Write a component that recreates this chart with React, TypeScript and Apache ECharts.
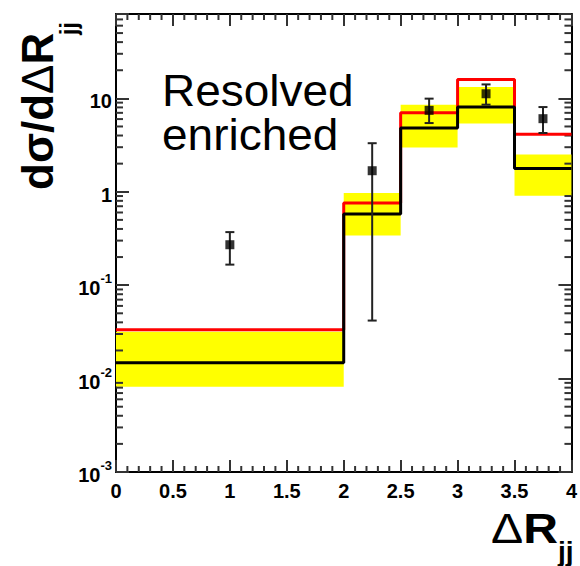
import React, { useEffect, useRef } from "react";
import * as echarts from "echarts";

// ---- data ----
const binEdges = [0, 2, 2.5, 3, 3.5, 4];
const redPrediction = [0.0334, 0.757, 7.03, 15.9, 4.12];
const blackPrediction = [0.0148, 0.578, 4.81, 8.07, 1.77];
const bandHigh = [0.0318, 0.968, 8.56, 13.2, 2.51];
const bandLow = [0.0082, 0.341, 2.97, 5.37, 0.906];

const dataX = [1, 2.25, 2.75, 3.25, 3.75];
const dataY = [0.271, 1.68, 7.44, 11.2, 6.06];
const dataLow = [0.166, 0.0418, 5.44, 8.56, 4.26];
const dataHigh = [0.37, 3.31, 9.93, 14.1, 8.07];

const xTickLabels = ["0", "0.5", "1", "1.5", "2", "2.5", "3", "3.5", "4"];
const xMajorTicks = [0, 0.5, 1, 1.5, 2, 2.5, 3, 3.5, 4];
const xMinorSteps = [0.1, 0.2, 0.3, 0.4];
const yTickValues = [0.001, 0.01, 0.1, 1, 10];
const yTickLabels = ["10^-3", "10^-2", "10^-1", "1", "10"];
const yMinorMultipliers = [2, 3, 4, 5, 6, 7, 8, 9];

const X_MIN = 0;
const X_MAX = 4;
const Y_MIN = 0.001;
const Y_MAX = 80;

const FONT = "'Liberation Sans', Arial, Helvetica, sans-serif";
const TICK = "#333333";

export default function App() {
  const ref = useRef<HTMLDivElement>(null);

  useEffect(() => {
    if (!ref.current) return;
    const chart = echarts.init(ref.current, undefined, { renderer: "svg" });

    const stepData = (vals: number[]) =>
      binEdges.map((e, i) => [e, vals[Math.min(i, vals.length - 1)]]);

    const yMinor: number[][] = [];
    yTickValues.forEach((d) =>
      yMinorMultipliers.forEach((m) => {
        const v = d * m;
        if (v < Y_MAX) yMinor.push([v, 7]);
      })
    );
    const xMinor: number[][] = [];
    xMajorTicks.forEach((t) =>
      xMinorSteps.forEach((s) => {
        const v = +(t + s).toFixed(3);
        if (v < X_MAX) xMinor.push([v, 6]);
      })
    );

    const yFmt = (v: number) => {
      const i = yTickValues.findIndex(
        (t) => Math.abs(Math.log10(v) - Math.log10(t)) < 1e-6
      );
      if (i < 0) return "";
      const p = yTickLabels[i].split("^");
      return p.length === 2 ? `{b|${p[0]}}{s|${p[1]}}` : `{b|${p[0]}}`;
    };

    const xCommon: any = {
      type: "value",
      min: X_MIN,
      max: X_MAX,
      interval: 0.5,
      axisLine: { show: true, onZero: false, lineStyle: { color: "#000", width: 2 } },
      axisTick: { show: true, inside: true, length: 12, lineStyle: { color: TICK, width: 2 } },
      splitLine: { show: false },
    };
    const yCommon: any = {
      type: "log",
      min: Y_MIN,
      max: Y_MAX,
      axisLine: { show: true, onZero: false, lineStyle: { color: "#000", width: 2 } },
      axisTick: { show: true, inside: true, length: 13, lineStyle: { color: TICK, width: 2 } },
      splitLine: { show: false },
    };

    const yMinorSeries = (side: number) => ({
      type: "custom",
      encode: { y: 0 },
      dimensions: ["v", "len"],
      data: yMinor,
      renderItem: (_p: any, api: any) => {
        const len = api.value(1);
        const pt = api.coord([side === 0 ? X_MIN : X_MAX, api.value(0)]);
        const x2 = side === 0 ? pt[0] + len : pt[0] - len;
        return {
          type: "line",
          shape: { x1: pt[0], y1: pt[1], x2, y2: pt[1] },
          style: { stroke: TICK, lineWidth: 2 },
        };
      },
    });
    const xMinorSeries = (side: number) => ({
      type: "custom",
      encode: { x: 0 },
      dimensions: ["v", "len"],
      data: xMinor,
      renderItem: (_p: any, api: any) => {
        const len = api.value(1);
        const pt = api.coord([api.value(0), side === 0 ? Y_MIN : Y_MAX]);
        const y2 = side === 0 ? pt[1] - len : pt[1] + len;
        return {
          type: "line",
          shape: { x1: pt[0], y1: pt[1], x2: pt[0], y2 },
          style: { stroke: TICK, lineWidth: 2 },
        };
      },
    });

    chart.setOption({
      animation: false,
      backgroundColor: "#fff",
      grid: { left: 116, right: 5, top: 14, bottom: 94, containLabel: false },
      xAxis: [
        {
          ...xCommon,
          position: "bottom",
          axisLabel: {
            margin: 9,
            fontFamily: FONT,
            fontWeight: "bold",
            fontSize: 20,
            color: "#000",
            formatter: (_v: number, i: number) => xTickLabels[i] ?? "",
          },
        },
        { ...xCommon, position: "top", axisLabel: { show: false } },
      ],
      yAxis: [
        {
          ...yCommon,
          position: "left",
          axisLabel: {
            margin: 4,
            formatter: yFmt,
            rich: {
              b: { fontFamily: FONT, fontWeight: "bold", fontSize: 20, color: "#000", lineHeight: 26, verticalAlign: "bottom" },
              s: { fontFamily: FONT, fontWeight: "bold", fontSize: 13, color: "#000", lineHeight: 13, verticalAlign: "top" },
            },
          },
        },
        { ...yCommon, position: "right", axisLabel: { show: false } },
      ],
      series: [
        {
          type: "custom",
          z: 1,
          encode: { x: [0, 1], y: [2, 3] },
          data: bandLow.map((lo, i) => [binEdges[i], binEdges[i + 1], lo, bandHigh[i]]),
          renderItem: (_p: any, api: any) => {
            const p1 = api.coord([api.value(0), api.value(3)]);
            const p2 = api.coord([api.value(1), api.value(2)]);
            return {
              type: "rect",
              shape: { x: p1[0], y: p1[1], width: p2[0] - p1[0], height: p2[1] - p1[1] },
              style: { fill: "#ffff00" },
            };
          },
        },
        {
          type: "line",
          step: "end",
          z: 2,
          symbol: "none",
          data: stepData(redPrediction),
          lineStyle: { color: "#ff0000", width: 3 },
        },
        {
          type: "line",
          step: "end",
          z: 3,
          symbol: "none",
          data: stepData(blackPrediction),
          lineStyle: { color: "#000", width: 3 },
        },
        {
          type: "custom",
          z: 4,
          encode: { x: 0, y: [1, 2, 3] },
          data: dataX.map((x, i) => [x, dataY[i], dataLow[i], dataHigh[i]]),
          renderItem: (_p: any, api: any) => {
            const lo = api.coord([api.value(0), api.value(2)]);
            const hi = api.coord([api.value(0), api.value(3)]);
            const es = { stroke: "#222", lineWidth: 2 };
            return {
              type: "group",
              children: [
                { type: "line", shape: { x1: lo[0], y1: lo[1], x2: hi[0], y2: hi[1] }, style: es },
                { type: "line", shape: { x1: lo[0] - 4.5, y1: lo[1], x2: lo[0] + 4.5, y2: lo[1] }, style: { ...es } },
                { type: "line", shape: { x1: hi[0] - 4.5, y1: hi[1], x2: hi[0] + 4.5, y2: hi[1] }, style: { ...es } },
              ],
            };
          },
        },
        {
          type: "scatter",
          z: 5,
          symbol: "rect",
          symbolSize: 9,
          itemStyle: { color: "#000" },
          data: dataX.map((x, i) => [x, dataY[i]]),
        },
        yMinorSeries(0),
        yMinorSeries(1),
        xMinorSeries(0),
        xMinorSeries(1),
      ],
      graphic: [
        {
          type: "text",
          x: 162,
          y: 69,
          scaleX: 1.045,
          style: { text: "Resolved", fontFamily: FONT, fontSize: 44, lineHeight: 44, fill: "#000", align: "left", verticalAlign: "top" },
        },
        {
          type: "text",
          x: 162,
          y: 113,
          scaleX: 1.045,
          style: { text: "enriched", fontFamily: FONT, fontSize: 44, lineHeight: 44, fill: "#000", align: "left", verticalAlign: "top" },
        },
        {
          type: "text",
          x: 37,
          y: 190,
          rotation: Math.PI / 2,
          style: {
            text: "{a|dσ/d}{n|Δ}{a|R}",
            align: "left",
            verticalAlign: "middle",
            fill: "#000",
            rich: {
              a: { fontFamily: FONT, fontWeight: "bold", fontSize: 44, fill: "#000" },
              n: { fontFamily: FONT, fontWeight: "normal", fontSize: 44, fill: "#000" },
            },
          },
        },
        {
          type: "text",
          x: 69,
          y: 35,
          rotation: Math.PI / 2,
          style: { text: "jj", fontFamily: FONT, fontWeight: "bold", fontSize: 23, fill: "#000", align: "left", verticalAlign: "middle" },
        },
        {
          type: "text",
          x: 491,
          y: 528,
          scaleX: 1.12,
          style: {
            text: "{n|Δ}{a|R}",
            align: "left",
            verticalAlign: "middle",
            fill: "#000",
            rich: {
              a: { fontFamily: FONT, fontWeight: "bold", fontSize: 43, fill: "#000" },
              n: { fontFamily: FONT, fontWeight: "normal", fontSize: 43, fill: "#000" },
            },
          },
        },
        {
          type: "text",
          x: 558,
          y: 551,
          style: { text: "jj", fontFamily: FONT, fontWeight: "bold", fontSize: 28, fill: "#000", align: "left", verticalAlign: "middle" },
        },
      ],
    });

    return () => chart.dispose();
  }, []);

  return (
    <div
      ref={ref}
      style={{ position: "fixed", left: 0, top: 0, width: 580, height: 566, background: "#fff" }}
    />
  );
}
